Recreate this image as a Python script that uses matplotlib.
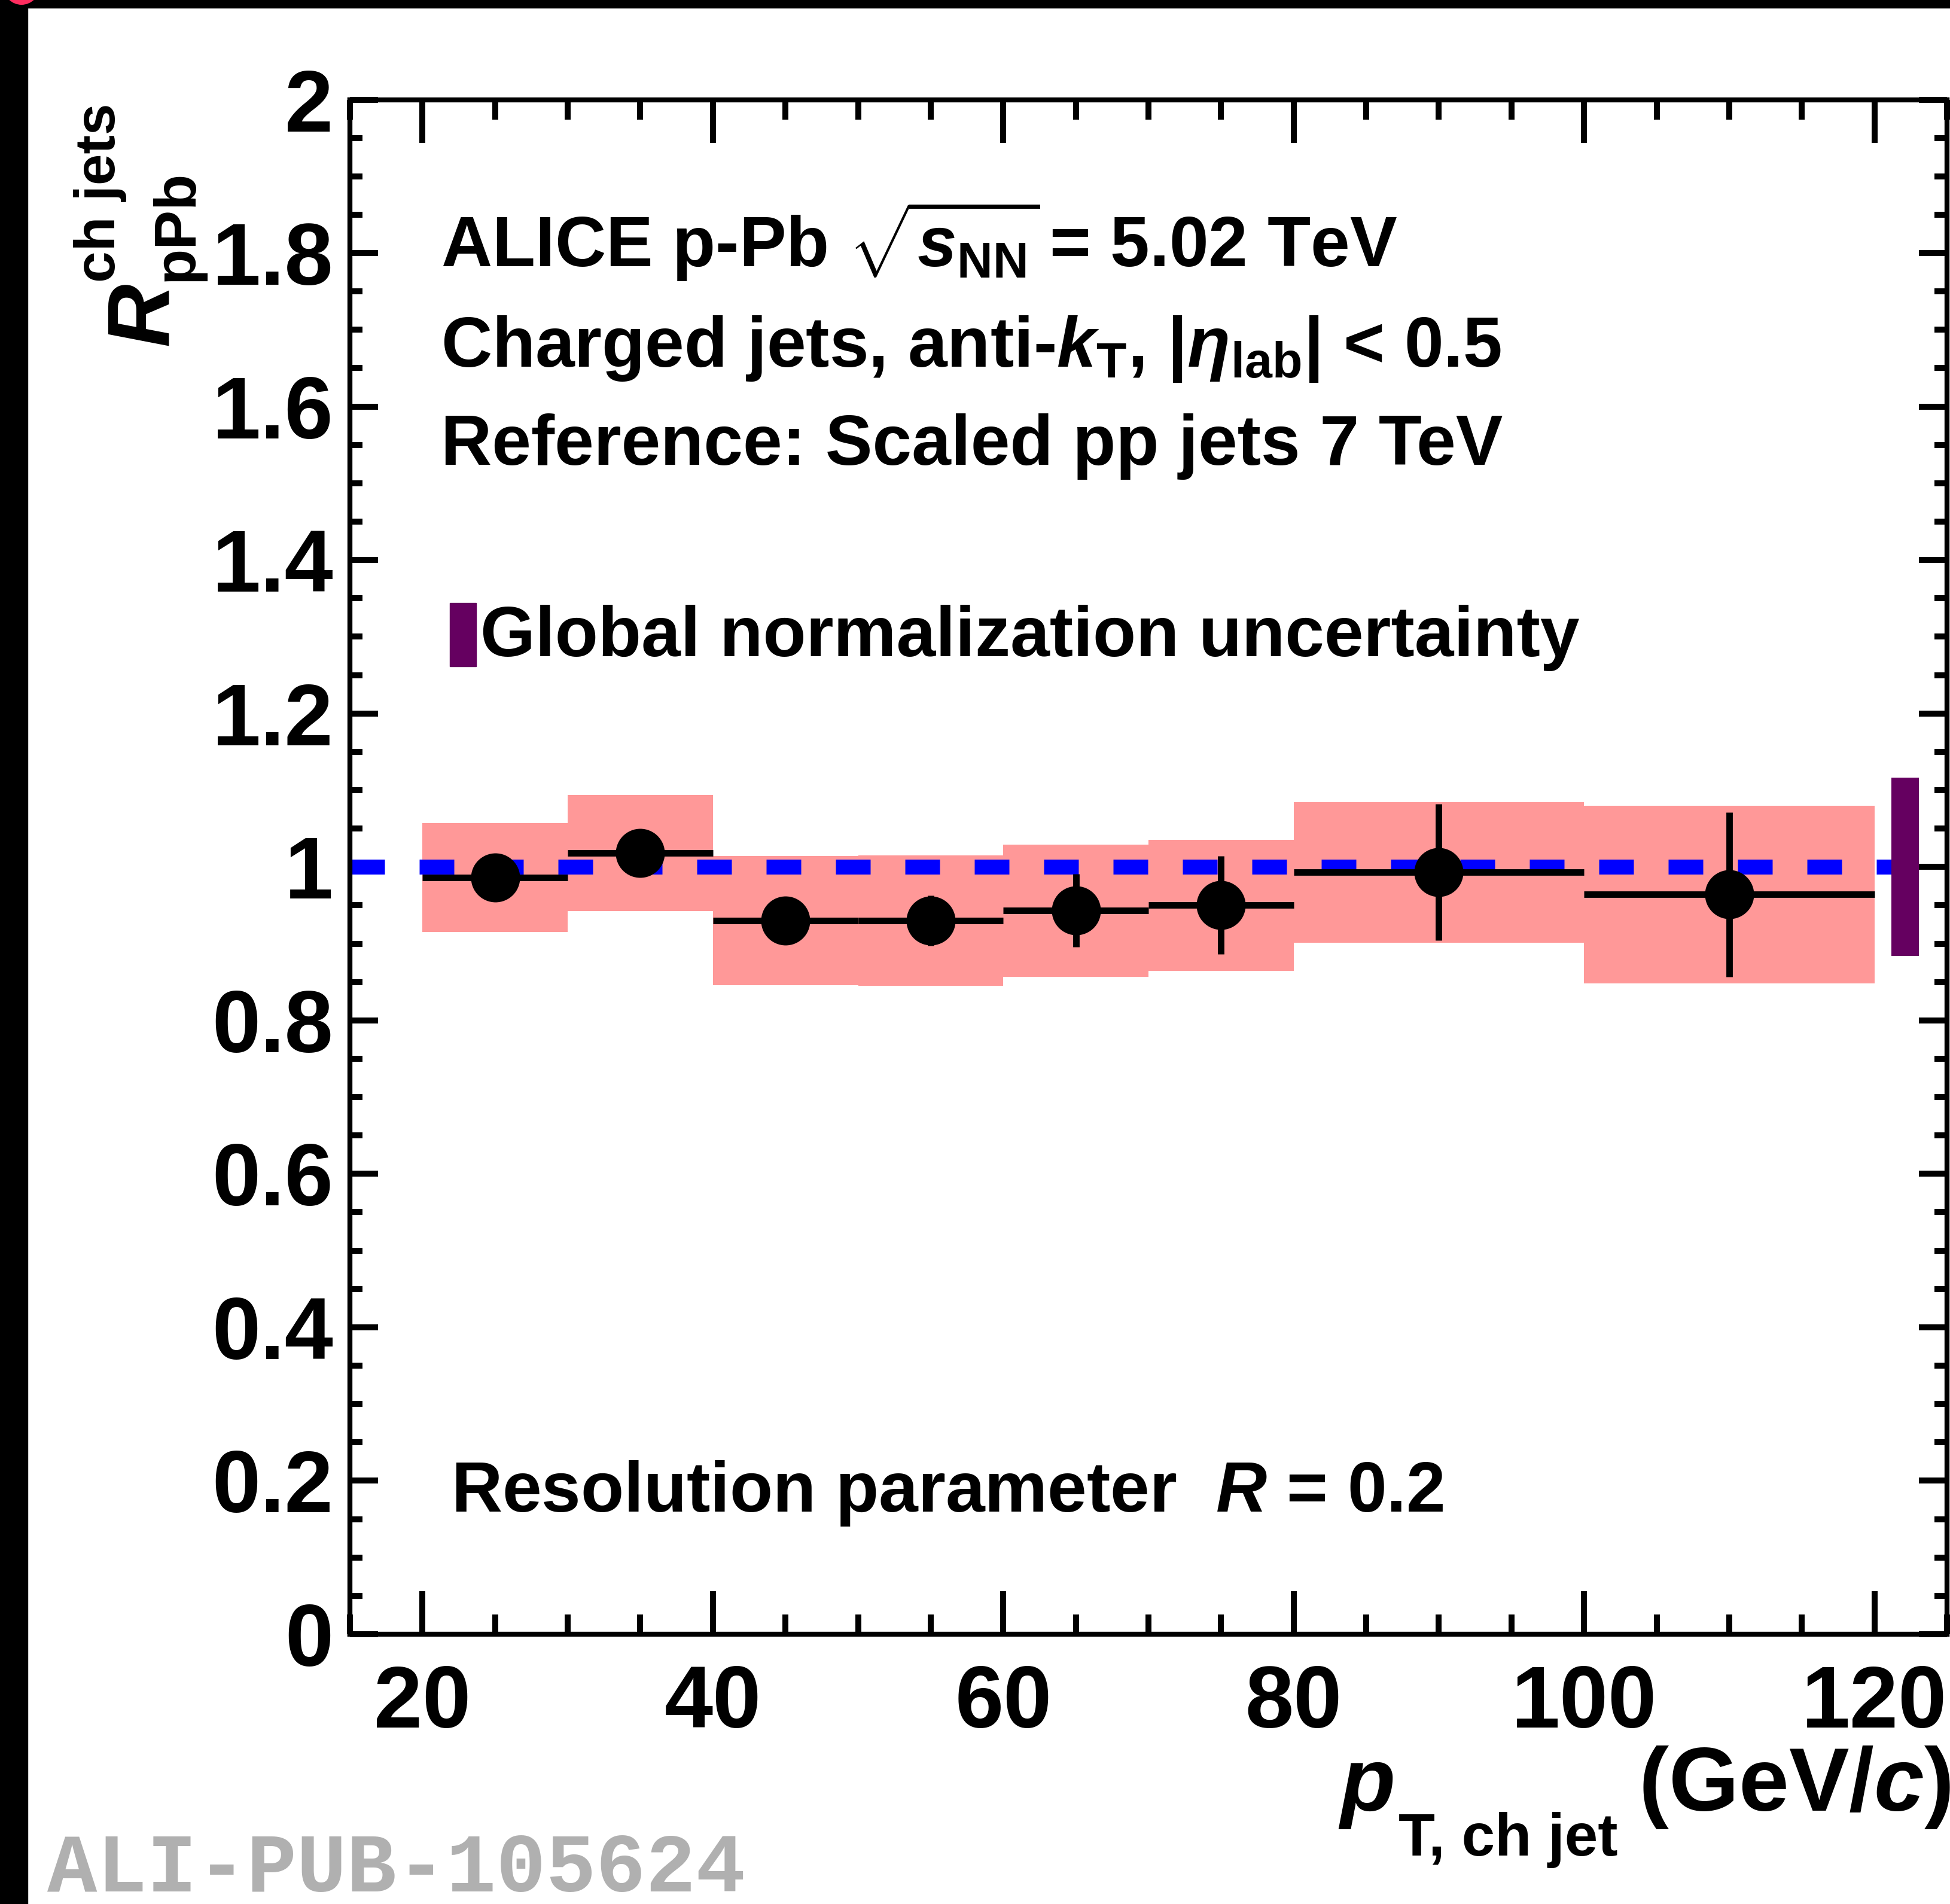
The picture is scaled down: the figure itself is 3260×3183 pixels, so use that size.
import numpy as np
import matplotlib
matplotlib.use("Agg")
import matplotlib.pyplot as plt
from matplotlib.patches import Rectangle, Ellipse
from matplotlib.ticker import MultipleLocator, FuncFormatter

# jet pT bins (GeV/c) and R_pPb per bin
bin_lo = np.array([20, 30, 40, 50, 60, 70, 80, 100])
bin_hi = np.array([30, 40, 50, 60, 70, 80, 100, 120])
rppb = np.array([0.986, 1.018, 0.930, 0.930, 0.943, 0.950, 0.993, 0.964])
stat_err = np.array([0.022, 0.025, 0.028, 0.033, 0.0475, 0.064, 0.089, 0.107])
syst_err = np.array([0.071, 0.0755, 0.0845, 0.085, 0.086, 0.0855, 0.0915, 0.116])

# global normalisation uncertainty, drawn as a band at the right edge
global_x = 122.1
global_width = 1.9
global_unc = 0.116

ref_level = 1.0

x_ticks_major, x_ticks_minor = 20, 5
y_ticks_major, y_ticks_minor = 0.2, 0.05

W, H = 3260, 3183
DPI = 100

SYST_COLOR = "#ff9898"
GLOBAL_COLOR = "#650060"
LINE_COLOR = "#0000ff"

plt.rcParams["font.family"] = ["Liberation Sans", "DejaVu Sans"]
plt.rcParams["font.weight"] = "bold"
plt.rcParams["mathtext.fontset"] = "custom"
plt.rcParams["mathtext.rm"] = "Liberation Sans:bold"
plt.rcParams["mathtext.bf"] = "Liberation Sans:bold"
plt.rcParams["mathtext.it"] = "Liberation Sans:italic:bold"
plt.rcParams["mathtext.sf"] = "Liberation Sans:italic"


def fx(px):
    return px / W


def fy(py):
    return 1 - py / H


fig = plt.figure(figsize=(W / DPI, H / DPI), dpi=DPI)
fig.patch.set_facecolor("white")

ax = fig.add_axes([fx(585), fy(2732), 2670 / W, 2565.5 / H])
ax.set_xlim(15, 125)
ax.set_ylim(0, 2)

centers = 0.5 * (bin_lo + bin_hi)
widths = bin_hi - bin_lo

# systematic boxes
ax.bar(centers, 2 * syst_err, bottom=rppb - syst_err, width=widths,
       color=SYST_COLOR, linewidth=0, zorder=1)

ax.axhline(ref_level, color=LINE_COLOR, lw=18, dashes=(2.32, 2.32), zorder=2)

ax.bar([global_x], [2 * global_unc], bottom=ref_level - global_unc, width=global_width,
       color=GLOBAL_COLOR, linewidth=0, zorder=3)

ax.errorbar(centers, rppb, xerr=[centers - bin_lo, bin_hi - centers], yerr=stat_err,
            fmt="o", color="black", ms=59, mew=0, elinewidth=7.8, capsize=0, zorder=4)

# axes styling
for sp in ax.spines.values():
    sp.set_linewidth(6)
ax.xaxis.set_major_locator(MultipleLocator(x_ticks_major))
ax.xaxis.set_minor_locator(MultipleLocator(x_ticks_minor))
ax.yaxis.set_major_locator(MultipleLocator(y_ticks_major))
ax.yaxis.set_minor_locator(MultipleLocator(y_ticks_minor))
ax.yaxis.set_major_formatter(FuncFormatter(lambda v, p: f"{v:g}"))
ax.tick_params(which="both", direction="in", top=True, right=True, width=7.2)
ax.tick_params(axis="x", which="major", length=52, pad=36, labelsize=105)
ax.tick_params(axis="x", which="minor", length=24)
ax.tick_params(axis="y", which="major", length=34, pad=20, labelsize=105)
ax.tick_params(axis="y", which="minor", length=15)

# annotations
info_size = 85
fig.text(fx(737), fy(446), r"ALICE p-Pb $\sqrt{s_{\mathrm{NN}}}\,$= 5.02 TeV",
         size=info_size, ha="left", va="baseline")
fig.text(fx(737), fy(613), r"Charged jets, anti-$k_{\mathrm{T}}$, |$\mathsf{\eta}_{\mathrm{lab}}$| < 0.5",
         size=info_size, ha="left", va="baseline")
fig.text(fx(737), fy(777), "Reference: Scaled pp jets 7 TeV",
         size=info_size, ha="left", va="baseline")

fig.patches.append(Rectangle((fx(752), fy(1114)), 44 / W, 106 / H,
                             transform=fig.transFigure, color=GLOBAL_COLOR))
fig.text(fx(803), fy(1097), "Global normalization uncertainty",
         size=85, ha="left", va="baseline")

fig.text(fx(754), fy(2527), r"Resolution parameter  $R$ = 0.2",
         size=info_size, ha="left", va="baseline")

# y axis title: R^{ch jets}_{pPb}
fig.text(fx(280), fy(578), "R", size=105.5, style="italic", rotation=90,
         rotation_mode="anchor", ha="left", va="baseline")
fig.text(fx(192), fy(472), "ch jets", size=68, rotation=90,
         rotation_mode="anchor", ha="left", va="baseline")
fig.text(fx(322), fy(470), "pPb", size=71, rotation=90,
         rotation_mode="anchor", ha="left", va="baseline")

# x axis title: p_{T, ch jet} (GeV/c)
fig.text(fx(2240), fy(3027), "p", size=108.5, style="italic", ha="left", va="baseline")
fig.text(fx(2338), fy(3102), "T, ch jet", size=72, ha="left", va="baseline")
fig.text(fx(3261), fy(3027), r"(GeV/$\mathit{c}$)", size=108.5, ha="right", va="baseline")

fig.text(fx(79), fy(3162), "ALI-PUB-105624", family="Liberation Mono", weight="bold",
         size=100, color="#b0b0b0", ha="left", va="baseline")

# black frame along the top and left edges
fig.patches.append(Rectangle((0, 0), 46 / W, 1, transform=fig.transFigure,
                             color="black", zorder=10))
fig.patches.append(Rectangle((0, fy(13)), 1, 13 / H, transform=fig.transFigure,
                             color="black", zorder=10))
fig.patches.append(Ellipse((fx(36), fy(-22)), 2 * 29.3 / W, 2 * 29.3 / H,
                           transform=fig.transFigure, color="#ff2d5f", zorder=11))

fig.savefig("out.png", dpi=DPI)
